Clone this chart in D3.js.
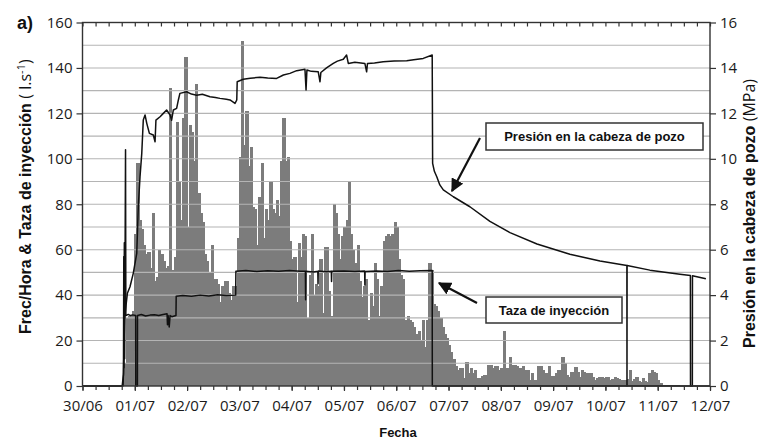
<!DOCTYPE html>
<html><head><meta charset="utf-8">
<script src="https://cdn.jsdelivr.net/npm/d3@7"></script>
<style>body{margin:0;background:#fff} svg{display:block}</style>
</head><body><svg id="c" width="764" height="443"></svg>
<script>
// ---------- DATA ----------
const startDate = [2000, 5, 30];          // 30/06 00:00
const dayLabels = ["30/06","01/07","02/07","03/07","04/07","05/07","06/07","07/07","08/07","09/07","10/07","11/07","12/07"];
const leftTicks = [0,20,40,60,80,100,120,140,160];
const rightTicks = [0,2,4,6,8,10,12,14,16];
const gridValues = [10,20,30,40,50,60,70,80,90,100,110,120,130,140,150];

// Seismic events per hour (Frec/Hora), one value per hour, first bin = 30/06 19:00
const rateStartHour = 19;
const eventsPerHour = [
 10,30,31,31,33,
 67,98,73,69,62,58,59,52,76,46,48,60,58,55,52,53,131,51,57,116,90,73,118,145,
 70,115,112,99,133,85,76,72,58,55,50,62,47,47,45,37,44,46,46,41,38,44,44,65,
 101,152,106,121,97,105,79,78,62,83,98,65,78,73,90,78,76,82,75,99,118,99,101,64,
 56,57,37,63,57,67,66,30,49,67,40,45,44,56,32,61,61,42,31,80,76,67,56,66,
 70,73,90,67,60,54,62,46,39,44,47,29,41,35,54,47,31,44,64,66,67,66,67,72,
 70,56,49,47,29,31,29,28,26,23,24,20,29,17,29,54,51,36,35,33,30,26,23,21,
 18,15,12,8.6,7,8,8,3.5,10.6,5.6,8,5.6,7,3.5,3.5,4.3,5,5,9.3,9.3,7.8,8.6,8.6,7,
 7.8,24,7.8,7.8,12.9,9.3,9.3,8.6,7.8,7.8,8.6,7,7,2.8,5.6,2.8,2.8,8.6,8.6,7,5.6,5.6,8.6,4.3,
 4.3,5.6,7,7,12.9,10,5,4,6,6.3,8.5,6,4,7,6,5.6,5.6,5.6,4,2.6,3.4,4,4,3.4,
 4,4,2.6,3,4,3.4,3,2.6,2.6,2.6,3,7,2,3,4,2,1.9,3.4,2,1.9,5.6,7,6,5.6,
 2.6,1.5,0.6,0.6,0.6,0.3,0.3,0.3,0.3,0.3
];

// Injection rate (l/s): [hours since 30/06 00:00, value]
const injection = [
 [0,0],[18.6,0],[18.8,6],[18.95,57],[19.05,8],[19.2,63],[19.35,12],[19.75,104],[19.9,31],
 [21,31.5],[22,31],[23,31.3],[24.4,31],[24.45,0],[25.2,0],[25.25,31],[27,31.5],[29,30.8],
 [31,31.2],[33,31.4],[35,31],[37,31.5],[38.8,31.8],[39,27],[39.3,31],[39.8,26],[40.2,31],
 [41,30.5],[42.9,31],[43.0,39.5],[46,39.8],[50,39.5],[54,40],[58,39.6],[62,40.2],[66,39.8],
 [70.3,40],[70.4,50.5],[75,50.8],[80,50.4],[85,50.7],[90,50.5],[95,50.8],[100,50.5],
 [102.3,50.5],[102.4,38],[102.5,50.5],[106,50.2],[108,50.5],[108.1,45],[108.2,50.6],
 [112,50.3],[114.2,50.5],[114.3,46],[114.4,50.5],[120,50.6],[125,50.4],[129.5,50.6],
 [129.6,44.5],[129.7,50.4],[135,50.6],[140,50.4],[145,50.8],[150,50.5],[155,50.7],[160.5,50.8],
 [160.55,0],[288,0]
];

// Wellhead pressure (MPa): [hours since 30/06 00:00, value]
const pressure = [
 [0,0],[18.2,0],[18.8,0.5],[19.3,3.0],[20.6,4.08],[21.8,4.37],[23.3,4.96],[24.9,5.84],
 [25.6,7.89],[26.4,9.21],[27.2,10.24],[27.9,11.71],[28.7,11.93],[29.5,11.56],[30.7,11.12],
 [32.5,11.05],[33.3,10.75],[33.7,11.7],[35.6,11.85],[37.1,12.0],[38.6,12.15],[40.2,11.93],
 [40.9,11.7],[41.7,12.15],[43.2,12.22],[44.0,12.59],[44.7,12.88],[47.8,12.95],[50,12.85],
 [52.4,12.8],[55,12.84],[58.5,12.73],[61,12.7],[63.1,12.66],[66,12.62],[67.7,12.59],
 [70.0,12.44],[70.8,12.59],[71.0,13.39],[73.8,13.5],[77,13.55],[81.5,13.59],[85,13.56],
 [89.1,13.54],[92.2,13.69],[95.2,13.76],[98.3,13.88],[102.1,13.94],[102.6,13.03],[103.0,13.91],
 [105,13.85],[108.2,13.83],[109.0,13.39],[109.4,13.8],[112,14.0],[115.1,14.2],[117,14.3],
 [119.7,14.38],[121.2,14.57],[122.0,14.2],[125,14.25],[129.6,14.2],[130.4,13.83],[130.8,14.2],
 [134,14.22],[138.0,14.27],[143,14.3],[148.8,14.32],[152,14.36],[156.4,14.42],[160.5,14.57],
 [160.7,9.8],[161.5,9.45],[162.6,9.21],[164,8.85],[165.6,8.63],[170.2,8.33],[177.8,7.89],
 [187,7.25],[196.2,6.75],[208.6,6.25],[223.7,5.8],[237.5,5.5],[249.85,5.3],[249.9,0],
 [249.95,5.3],[260.4,5.1],[274.2,4.92],[279.0,4.86],[279.05,0],[279.9,0],[279.95,4.85],[286.1,4.72]
];

// ---------- CHART ----------
const W = 764, H = 443;
const M = {left: 82.5, right: 54, top: 22.5, bottom: 57};
const svg = d3.select("#c");
const base = new Date(startDate[0], startDate[1], startDate[2]);
const hd = h => new Date(base.getTime() + h * 3600e3);
const dayDates = dayLabels.map((d, i) => hd(i * 24));

const x = d3.scaleTime().domain([dayDates[0], dayDates[dayDates.length - 1]]).range([M.left, W - M.right]);
const y = d3.scaleLinear().domain([0, 160]).range([H - M.bottom, M.top]);
const y2 = d3.scaleLinear().domain([0, 16]).range([H - M.bottom, M.top]);

const tickFont = "'Open Sans', 'DejaVu Sans', sans-serif";
const boldFont = "'Liberation Sans', Arial, sans-serif";

// bars (histogram, contiguous)
svg.append("g").attr("shape-rendering", "crispEdges").selectAll("rect").data(eventsPerHour).join("rect")
  .attr("x", (d, i) => Math.floor(x(hd(rateStartHour + i))))
  .attr("width", (d, i) => Math.ceil(x(hd(rateStartHour + i + 1))) - Math.floor(x(hd(rateStartHour + i))))
  .attr("y", d => Math.round(y(d)))
  .attr("height", d => y(0) - Math.round(y(d)))
  .attr("fill", "#7c7c7c");

// gridlines
svg.append("g").selectAll("line").data(gridValues).join("line")
  .attr("x1", M.left).attr("x2", W - M.right)
  .attr("y1", d => y(d)).attr("y2", d => y(d))
  .attr("stroke", "#b4b4b4").attr("stroke-width", 1.1);

// lines
const lineInj = d3.line().x(d => x(hd(d[0]))).y(d => y(d[1]));
const lineP = d3.line().x(d => x(hd(d[0]))).y(d => y2(d[1]));
svg.append("path").datum(injection).attr("d", lineInj)
  .attr("fill", "none").attr("stroke", "#111").attr("stroke-width", 1.5).attr("stroke-linejoin", "round");
svg.append("path").datum(pressure).attr("d", lineP)
  .attr("fill", "none").attr("stroke", "#111").attr("stroke-width", 1.5).attr("stroke-linejoin", "round");

// frame
svg.append("rect").attr("x", M.left).attr("y", M.top)
  .attr("width", W - M.left - M.right).attr("height", H - M.top - M.bottom)
  .attr("fill", "none").attr("stroke", "#333").attr("stroke-width", 1.4);

// axes
function styleAxis(g) {
  g.select(".domain").remove();
  g.selectAll(".tick line").attr("stroke", "#333").attr("stroke-width", 1.2);
  g.selectAll(".tick text").attr("fill", "#1a1a1a").style("font-family", tickFont).style("font-size", "15px");
}
svg.append("g").attr("transform", `translate(${M.left},0)`)
  .call(d3.axisLeft(y).tickValues(leftTicks).tickSize(6).tickPadding(4)).call(styleAxis);
svg.append("g").attr("transform", `translate(${W - M.right},0)`)
  .call(d3.axisRight(y2).tickValues(rightTicks).tickSize(6).tickPadding(4)).call(styleAxis);

const minorTimes = d3.range(0, 12 * 24 + 1, 6).map(hd);
svg.append("g").attr("transform", `translate(0,${H - M.bottom})`)
  .call(d3.axisBottom(x).tickValues(minorTimes).tickSize(4).tickFormat("")).call(styleAxis);
svg.append("g").attr("transform", `translate(0,${M.top})`)
  .call(d3.axisTop(x).tickValues(minorTimes).tickSize(-4).tickFormat("")).call(styleAxis);
svg.append("g").attr("transform", `translate(0,${H - M.bottom})`)
  .call(d3.axisBottom(x).tickValues(dayDates).tickSize(5).tickPadding(9)
    .tickFormat((d, i) => dayLabels[i])).call(styleAxis);

// axis titles
svg.append("text").attr("x", 398).attr("y", 437).attr("text-anchor", "middle")
  .style("font-family", boldFont).style("font-weight", "bold").style("font-size", "13px").attr("fill", "#111")
  .text("Fecha");

const lt = svg.append("text").attr("transform", "translate(31,334) rotate(-90)").attr("text-anchor", "start")
  .style("font-family", boldFont).style("font-size", "16px").attr("fill", "#111");
lt.append("tspan").style("font-weight", "bold").text("Frec/Hora & Taza de inyección ");
lt.append("tspan").style("font-family", tickFont).style("font-size", "16px").text("( l.s");
lt.append("tspan").style("font-family", tickFont).style("font-size", "11px").attr("dy", -6).text("-1");
lt.append("tspan").style("font-family", tickFont).style("font-size", "16px").attr("dy", 6).text(")");

const rt = svg.append("text").attr("transform", "translate(755,348) rotate(-90)").attr("text-anchor", "start")
  .style("font-family", boldFont).style("font-size", "16px").attr("fill", "#111");
rt.append("tspan").style("font-weight", "bold").text("Presión en la cabeza de pozo ");
rt.append("tspan").style("font-family", tickFont).style("font-size", "16px").text("(MPa)");

svg.append("text").attr("x", 17).attr("y", 29)
  .style("font-family", boldFont).style("font-weight", "bold").style("font-size", "18px").attr("fill", "#111")
  .text("a)");

// annotations
const defs = svg.append("defs");
defs.append("marker").attr("id", "ah").attr("viewBox", "0 0 10 10").attr("refX", 9).attr("refY", 5)
  .attr("markerWidth", 6).attr("markerHeight", 6).attr("markerUnits", "strokeWidth").attr("orient", "auto")
  .append("path").attr("d", "M0,0 L10,5 L0,10 z").attr("fill", "#111");

const notes = [
  {text: "Presión en la cabeza de pozo", bx: 486, by: 123, bw: 217, bh: 27, from: [480, 138], to: [452, 191]},
  {text: "Taza de inyección", bx: 486, by: 297, bw: 136, bh: 26, from: [477, 303], to: [439, 283]}
];
notes.forEach(n => {
  svg.append("line").attr("x1", n.from[0]).attr("y1", n.from[1]).attr("x2", n.to[0]).attr("y2", n.to[1])
    .attr("stroke", "#111").attr("stroke-width", 2.2).attr("marker-end", "url(#ah)");
  svg.append("rect").attr("x", n.bx).attr("y", n.by).attr("width", n.bw).attr("height", n.bh)
    .attr("fill", "#fff").attr("stroke", "#333").attr("stroke-width", 1.5);
  svg.append("text").attr("x", n.bx + n.bw / 2).attr("y", n.by + n.bh / 2 + 4.5).attr("text-anchor", "middle")
    .style("font-family", boldFont).style("font-weight", "bold").style("font-size", "13px").attr("fill", "#111")
    .text(n.text);
});
</script></body></html>
